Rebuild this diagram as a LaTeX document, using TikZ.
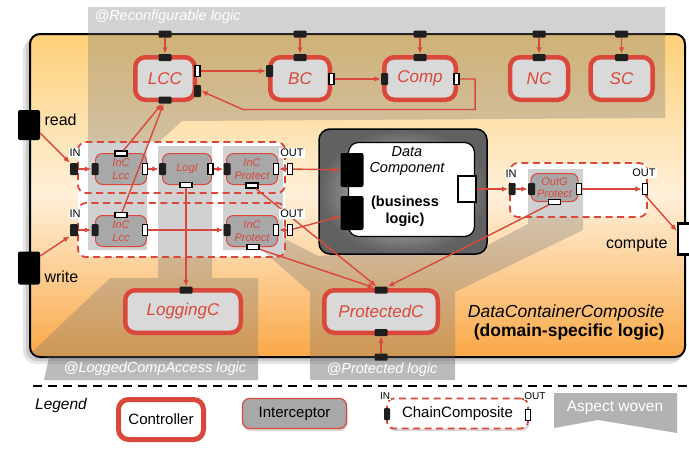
\documentclass[tikz,border=0pt]{standalone}
\usepackage{fontspec}
\setmainfont{Liberation Sans}
\usetikzlibrary{arrows.meta,shadows}
\definecolor{myred}{RGB}{217,72,58}
\definecolor{ctrlfill}{RGB}{217,217,217}
\definecolor{intfill}{RGB}{168,168,168}
\definecolor{ctop}{RGB}{253,208,120}
\definecolor{cmid}{RGB}{255,240,218}
\definecolor{cbot}{RGB}{250,168,70}
\begin{document}
\begin{tikzpicture}[x=1pt,y=-1pt,
  ctrl/.style={draw=myred, line width=4.5pt, fill=ctrlfill, rounded corners=10pt, text=myred, font=\fontsize{17}{20}\selectfont\itshape, minimum height=42.5pt, inner sep=0pt},
  intc/.style={draw=myred, line width=1pt, fill=intfill, rounded corners=7pt, text=myred, font=\fontsize{11}{12.5}\selectfont\itshape, align=center, minimum width=51pt, minimum height=31pt, inner sep=0pt},
  bph/.style={fill=black!88, inner sep=0pt, minimum width=13pt, minimum height=7pt, rounded corners=1pt},
  bpv/.style={fill=black!88, inner sep=0pt, minimum width=7pt, minimum height=12pt, rounded corners=1pt},
  wpv/.style={fill=white, draw=black, line width=1.2pt, inner sep=0pt, minimum width=5pt, minimum height=11pt},
  wph/.style={fill=white, draw=black, line width=1.2pt, inner sep=0pt, minimum width=12pt, minimum height=5pt},
  arr/.style={draw=myred, line width=1.4pt, -{Latex[length=6.5pt,width=5.5pt]}},
  lab/.style={fill=white, inner sep=1pt, font=\fontsize{11}{12}\selectfont},
  chainb/.style={draw=myred, line width=1.8pt, dash pattern=on 7pt off 4.5pt, rounded corners=8pt},
  aspect/.style={fill=black!55, fill opacity=0.32},
  band/.style={fill=black!50, fill opacity=0.28},
  bandtxt/.style={text=white, font=\fontsize{14.5}{16}\selectfont\itshape},
  bigtxt/.style={font=\fontsize{16}{18}\selectfont},
  lgshadow/.style={drop shadow={opacity=0.3, shadow xshift=1pt, shadow yshift=-2.5pt}},
]
\useasboundingbox (0,0) rectangle (689,450);

% container
\fill[black, opacity=0.10, rounded corners=13pt] (23,38) rectangle (683,364);
\fill[black, opacity=0.12, rounded corners=11pt] (26,37) rectangle (684,361);
\draw[line width=2pt, rounded corners=10pt, top color=ctop, bottom color=cbot, middle color=cmid] (30,34) rectangle (685,357);

% chain backgrounds
\fill[white, rounded corners=8pt] (78,142) rectangle (285,257);
\fill[white, rounded corners=8pt] (510,163) rectangle (647,217);

% aspects
\fill[aspect] (88,7) -- (665,7) -- (665,118) -- (182,121) -- (160,141) -- (147,141) -- (147,250) -- (88,250) -- cycle;
\fill[aspect] (158,146) -- (212,146) -- (212,278) -- (258,278) -- (258,380) -- (44,380) -- (49,358) -- (31,353) -- (110,278) -- (158,278) -- cycle;
\fill[aspect] (223,146) -- (283,146) -- (283,238) -- (318,256) -- (488,245) -- (528,224) -- (528,169) -- (583,169) -- (583,230) -- (455,292) -- (455,380) -- (310,380) -- (310,292) -- (262,250) -- (223,250) -- cycle;
\fill[band] (49,358) -- (258,358) -- (258,380) -- (44,380) -- cycle;
\fill[band] (310,358) rectangle (455,380);
\node[bandtxt, anchor=west] (trec) at (91,17) {@Reconfigurable logic};
\node[bandtxt] (tlog) at (155,369) {@LoggedCompAccess logic};
\node[bandtxt] (tprot) at (382,370) {@Protected logic};

% data component
\node[draw=black, line width=1.5pt, rounded corners=11pt, inner color=black!12, outer color=black!62, minimum width=168pt, minimum height=125pt, inner sep=0pt] (dcout) at (403,191.5) {};
\node[draw=black, line width=1.2pt, fill=white, rounded corners=10pt, minimum width=126pt, minimum height=94pt, inner sep=0pt] (dcin) at (411.5,189.5) {};
\node[fill=black, rounded corners=2pt, minimum width=23pt, minimum height=34pt, inner sep=0pt] (dcp1) at (352,170) {};
\node[fill=black, rounded corners=2pt, minimum width=23pt, minimum height=34pt, inner sep=0pt] (dcp2) at (352,213) {};
\node[fill=white, draw=black, line width=1.8pt, minimum width=18pt, minimum height=26pt, inner sep=0pt] (dcw) at (467,189) {};
\node[font=\fontsize{14.5}{16.5}\selectfont\itshape, align=center] (dctxt) at (407,161) {Data\\Component};
\node[font=\fontsize{14.5}{17}\selectfont\bfseries, align=center] (dcbl) at (405,211.5) {(business\\logic)};

% chain borders
\draw[chainb] (78,142) rectangle (285,193);
\draw[chainb] (78,203) rectangle (285,257);
\draw[chainb] (510,163) rectangle (647,217);

% controllers
\node[ctrl, minimum width=59.5pt] (lcc) at (165,78.5) {LCC};
\node[ctrl, minimum width=59.5pt] (bc) at (300,78.5) {BC};
\node[ctrl, minimum width=71.5pt] (comp) at (420,78.5) {Comp};
\node[ctrl, minimum width=58pt] (nc) at (539,78.5) {NC};
\node[ctrl, minimum width=62pt] (sc) at (621.5,78.5) {SC};
\node[ctrl, minimum width=115.5pt] (logc) at (183,311.5) {LoggingC};
\node[ctrl, minimum width=113.5pt] (protc) at (381,311.5) {ProtectedC};

\foreach \n/\x in {lcc/165, bc/300, comp/420, nc/539, sc/621.5}{
  \node[bph] (ct\n) at (\x,34) {};
  \node[bph] (pt\n) at (\x,57.5) {};
  \draw[arr] (ct\n) -- (pt\n);
}
\node[wpv] (lccw) at (197.5,71) {};
\node[bpv] (lccb) at (197.5,91) {};
\node[bph] (lccbot) at (165,100) {};
\node[bpv] (bcl) at (269.5,71) {};
\node[wpv] (bcw) at (331.5,79) {};
\node[bpv] (compl) at (384.5,79) {};
\node[wpv] (compw) at (456.5,79) {};
\node[bph] (logct) at (186,290) {};
\node[bph] (prott) at (381,290) {};
\node[bph] (protb) at (381,332.5) {};
\node[bph] (cbp) at (381,357) {};

% interceptors
\node[intc] (il1) at (121,169) {InC\\Lcc};
\node[intc, minimum width=49pt] (lg) at (187,169) {LogI};
\node[intc] (ip1) at (252,169) {InC\\Protect};
\node[intc] (il2) at (121,231) {InC\\Lcc};
\node[intc] (ip2) at (252,231) {InC\\Protect};
\node[intc, minimum width=47pt, minimum height=28pt] (og) at (554.5,187.5) {OutG\\Protect};

\node[bpv] (il1l) at (95,169) {}; \node[wpv] (il1r) at (145,169) {}; \node[wph] (il1t) at (121,153.5) {};
\node[bpv] (lgl) at (162.5,169) {}; \node[wpv] (lgr) at (210.5,169) {}; \node[wph] (lgb) at (186,185) {};
\node[bpv] (ip1l) at (227,169) {}; \node[wpv] (ip1r) at (276,169) {}; \node[wph] (ip1b) at (252,185.5) {};
\node[bpv] (il2l) at (95,230) {}; \node[wpv] (il2r) at (145,230) {}; \node[wph] (il2t) at (121,215) {};
\node[bpv] (ip2l) at (227,230) {}; \node[wpv] (ip2r) at (276,230) {}; \node[wph] (ip2b) at (253,247) {};
\node[bpv] (ogl) at (531.5,189) {}; \node[wpv] (ogr) at (579,189) {}; \node[wph] (ogb) at (554.5,202) {};

% chain ports
\node[bpv, minimum width=8pt] (in1) at (74,169) {}; \node[wpv] (out1) at (290,169) {};
\node[bpv, minimum width=8pt] (in2) at (74,230) {}; \node[wpv] (out2) at (290,230) {};
\node[bpv] (in3) at (512,189) {}; \node[wpv] (out3) at (645,189) {};

% big ports
\node[fill=black, rounded corners=2pt, minimum width=22pt, minimum height=30pt, inner sep=0pt] (read) at (29,125) {};
\node[fill=black, rounded corners=2pt, minimum width=22pt, minimum height=33pt, inner sep=0pt] (write) at (29,268) {};
\node[fill=white, draw=black, line width=2.5pt, minimum width=14pt, minimum height=31pt, inner sep=0pt] (compute) at (685,239) {};
\node[bigtxt, anchor=west] (readl) at (41,120) {read};
\node[bigtxt, anchor=west] (writel) at (41,277) {write};
\node[bigtxt, anchor=east] (computel) at (671,245) {compute};

% connectors
\draw[arr] (lccw) -- (bcl);
\draw[arr] (bcw) -- (compl);
\draw[arr] (compw.east) -- ++(15.5,0) |- (243,109.5) -- (lccb.east);
\draw[arr] ([yshift=-8pt]read.east) -- (in1.north west);
\draw[arr] ([yshift=12pt]write.east) -- (in2.south west);
\draw[arr] (in1) -- (il1l);
\draw[arr] (il1r) -- (lgl);
\draw[arr] (lgr) -- (ip1l);
\draw[arr] (out1) -- (ip1r);
\draw[arr] (out1) -- (dcp1);
\draw[arr] (in2) -- (il2l);
\draw[arr] (il2r) -- (ip2l);
\draw[arr] (out2) -- (ip2r);
\draw[arr] (out2) -- (dcp2);
\draw[arr] (il1t) -- (lccbot);
\draw[arr] (il2t) -- (lccbot);
\draw[arr] (lgb) -- (logct);
\draw[arr] (ip1b) -- (prott);
\draw[arr] (ip2b) -- (prott);
\draw[arr] (ogb) -- (prott);
\draw[arr] (cbp) -- (protb);
\draw[arr] (dcw) -- (in3);
\draw[arr] (in3) -- (ogl);
\draw[arr] (ogr) -- (out3);
\draw[arr] (out3.south) -- ([yshift=8pt]compute.west);

% IN / OUT labels
\node[lab] (in1t) at (75,153) {IN};
\node[lab] (out1t) at (292,153) {OUT};
\node[lab] (in2t) at (75,214) {IN};
\node[lab] (out2t) at (292,214) {OUT};
\node[lab] (in3t) at (511,174) {IN};
\node[lab] (out3t) at (644,173) {OUT};

% composite label
\node[anchor=east, font=\fontsize{17.5}{20}\selectfont\itshape] (dcc1) at (668,313) {DataContainerComposite};
\node[anchor=east, font=\fontsize{17.5}{20}\selectfont\bfseries] (dcc2) at (668,332) {(domain-specific logic)};

% legend
\draw[line width=2pt, dash pattern=on 9pt off 6pt] (33,386) -- (689,386);
\node[font=\fontsize{15.5}{18}\selectfont\itshape] (legend) at (61,405) {Legend};
\node[draw=myred, line width=5pt, fill=white, rounded corners=10pt, minimum width=85pt, minimum height=40pt, lgshadow, font=\fontsize{15}{17}\selectfont] (lgctrl) at (161,419.5) {Controller};
\node[draw=myred, line width=1.2pt, fill=intfill, rounded corners=7pt, minimum width=104pt, minimum height=30pt, lgshadow, font=\fontsize{15}{17}\selectfont] (lgintc) at (294.5,413.5) {Interceptor};
\node[draw=myred, line width=1.8pt, dash pattern=on 7pt off 4.5pt, fill=white, rounded corners=7pt, minimum width=141pt, minimum height=30pt, lgshadow, font=\fontsize{15}{17}\selectfont] (lgchain) at (457.5,413.5) {ChainComposite};
\node[bpv, minimum width=6pt] (lgin) at (387,414) {};
\node[wpv] (lgout) at (528,415) {};
\node[fill=white, inner sep=0.5pt, font=\fontsize{10}{11}\selectfont] (lgint) at (385,396) {IN};
\node[fill=white, inner sep=0.5pt, font=\fontsize{10}{11}\selectfont] (lgoutt) at (535,396) {OUT};
\fill[black!30] (554,393) -- (677,393) -- (677,433) -- (598,420) -- (554,428) -- cycle;
\node[text=white, font=\fontsize{15.5}{18}\selectfont] (lgasp) at (615,408) {Aspect woven};
\end{tikzpicture}
\end{document}
